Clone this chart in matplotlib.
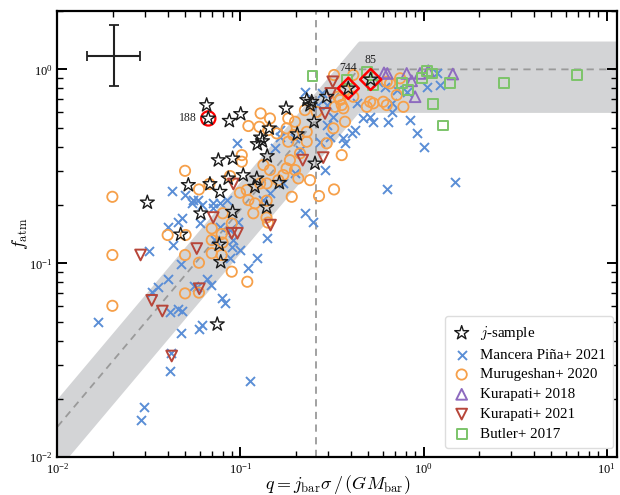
#!/usr/bin/env python3
"""Atmospheric fraction f_atm against stability parameter q."""

import matplotlib

matplotlib.use("Agg")
import matplotlib.pyplot as plt
import numpy as np

# values, stored as log10(q) and log10(f_atm)
star_lq = [-1.185, -1.176, -1.061, -0.999, -0.751, -0.638, -0.611, -0.620, -0.529, -0.598,
           -0.411, -0.289, -0.843, -0.890, -0.908, -0.880, -0.690, -0.854, -1.121, -1.043,
           -1.285, -1.167, -1.112, -1.067, -0.985, -0.911, -0.921, -0.788, -0.593, -0.857,
           -1.043, -1.217, -1.116, -1.108, -1.127, -1.509, -1.327]
star_lf = [-0.184, -0.253, -0.265, -0.230, -0.201, -0.158, -0.167, -0.184, -0.141, -0.270,
           -0.098, -0.052, -0.304, -0.351, -0.385, -0.370, -0.334, -0.447, -0.468, -0.459,
           -0.596, -0.591, -0.631, -0.562, -0.545, -0.562, -0.605, -0.585, -0.485, -0.711,
           -0.734, -0.742, -0.903, -0.993, -1.314, -0.686, -0.851]

# highlighted galaxies (indices into the star arrays)
circled = {"188": 1}
boxed = {"744": 10, "85": 11}

mancera_lq = [-1.376, -1.303, -1.267, -1.231, -1.212, -1.321, -1.340, -1.395, -1.367, -1.498,
              -1.325, -1.395, -1.449, -1.485, -1.252, -1.340, -1.385, -1.321, -1.780, -1.325,
              -1.227, -1.212, -1.380, -1.385, -1.526, -1.544, -1.112, -1.075, -0.857, -1.039,
              -1.003, -1.057, -0.911, -0.957, -1.185, -1.161, -1.239, -1.103, -1.085, -0.648,
              -0.606, -1.258, -1.149, -1.149, -1.012, -1.112, -1.221, -1.057, -1.139, -1.048,
              -1.017, -0.702, -0.784, -0.811, -0.529, -0.566, -0.538, -0.702, -0.648, -0.556,
              -0.529, -0.575, -0.365, -0.292, -0.274, -0.329, -0.192, -0.174, -0.074, -0.037,
              -0.392, -0.438, -0.374, -0.247, -0.210, -0.146, -0.092, 0.017, 0.090, 0.072,
              0.000, -0.429, -0.511, -0.493, -0.201, 0.172, -0.174, -0.675, -0.766, -0.839,
              -0.875, -0.784, -0.948]
mancera_lf = [-0.626, -0.648, -0.691, -0.674, -0.699, -0.768, -0.786, -0.814, -0.906, -0.937,
              -1.004, -1.082, -1.124, -1.146, -1.117, -1.237, -1.253, -1.246, -1.301, -1.361,
              -1.340, -1.318, -1.464, -1.555, -1.739, -1.808, -0.691, -0.674, -0.871, -0.880,
              -0.931, -0.974, -0.974, -1.026, -1.081, -1.112, -1.122, -1.180, -1.203, -0.739,
              -0.789, -0.674, -0.691, -0.716, -0.786, -0.811, -0.794, -0.828, -0.880, -0.914,
              -0.381, -0.356, -0.347, -0.407, -0.287, -0.373, -0.519, -0.536, -0.115, -0.124,
              -0.184, -0.184, -0.175, -0.244, -0.270, -0.253, -0.270, -0.175, -0.261, -0.330,
              -0.330, -0.356, -0.313, -0.064, -0.090, -0.107, -0.115, -0.090, -0.081, -0.021,
              -0.399, -0.381, -0.347, -0.244, -0.617, -0.579, -0.219, -0.416, -0.588, -0.639,
              -0.674, -0.313, -1.607]

murugeshan_lq = [-1.303, -1.227, -1.700, -1.398, -1.300, -1.700, -1.303, -1.227, -1.303, -1.227,
                 -1.700, -1.170, -1.057, -1.003, -0.966, -0.893, -0.857, -0.793, -1.097, -0.921,
                 -0.930, -0.857, -0.858, -0.850, -1.157, -1.103, -1.157, -1.098, -1.157, -1.103,
                 -1.048, -0.963, -0.957, -0.720, -0.571, -1.048, -0.875, -0.839, -0.890, -0.839,
                 -0.957, -0.897, -0.848, -0.802, -0.993, -0.993, -0.739, -0.702, -0.748, -0.711,
                 -0.638, -0.638, -0.739, -0.675, -0.730, -0.748, -0.702, -0.766, -0.684, -0.620,
                 -0.648, -0.584, -0.484, -0.456, -0.438, -0.493, -0.429, -0.429, -0.489, -0.384,
                 -0.310, -0.274, -0.220, -0.146, -0.110, -0.201, -0.128, -0.384, -0.183, -0.292,
                 -0.201, -0.447, -0.466, -0.529, -0.447, -0.489]
murugeshan_lf = [-0.523, -0.619, -0.657, -0.854, -0.854, -0.957, -0.957, -0.997, -1.155, -1.151,
                 -1.219, -0.591, -0.550, -0.636, -0.622, -0.588, -0.588, -0.571, -0.742, -0.691,
                 -0.742, -0.677, -0.764, -0.790, -0.820, -0.849, -0.880, -0.893, -0.948, -0.957,
                 -1.043, -1.095, -0.674, -0.657, -0.653, -0.794, -0.493, -0.519, -0.227, -0.253,
                 -0.292, -0.296, -0.313, -0.330, -0.442, -0.476, -0.253, -0.270, -0.304, -0.339,
                 -0.322, -0.373, -0.373, -0.433, -0.468, -0.510, -0.519, -0.545, -0.562, -0.571,
                 -0.210, -0.219, -0.193, -0.158, -0.201, -0.304, -0.270, -0.107, -0.029, -0.141,
                 -0.193, -0.175, -0.167, -0.132, -0.193, -0.064, -0.046, -0.029, -0.072, -0.167,
                 -0.184, -0.184, -0.141, -0.381, -0.442, -0.619]

kurapati18_lq = [-0.216, -0.198, -0.092, -0.065, -0.019, 0.026, 0.160, -0.046]
kurapati18_lf = [-0.018, -0.021, -0.021, -0.059, -0.021, -0.007, -0.024, -0.141]

kurapati21_lq = [-0.496, -0.507, -0.538, -0.660, -0.548, -1.039, -0.836, -1.149, -1.048, -1.017,
                 -1.239, -1.225, -1.546, -1.485, -1.427, -1.376]
kurapati21_lf = [-0.064, -0.124, -0.227, -0.468, -0.455, -0.591, -0.803, -0.764, -0.845, -0.845,
                 -0.924, -1.131, -0.957, -1.191, -1.246, -1.478]

butler_lq = [-0.607, -0.420, -0.310, -0.274, -0.119, -0.083, -0.010, 0.017, 0.045, 0.145,
             0.054, 0.105, 0.441, 0.840]
butler_lf = [-0.036, -0.052, -0.012, -0.081, -0.072, -0.107, -0.046, -0.007, -0.021, -0.069,
             -0.179, -0.289, -0.069, -0.028]

# model f_atm = min(1, A q^B) with a +/-40% band, and the q cut
model_a = 2.5
model_b = 1.12
band_frac = 0.4
q_cut = 0.26

# typical uncertainty (dex) shown top left
err_lq, err_lf = -1.693, 0.070
err_dq, err_df = 0.146, 0.157

plt.rcParams["font.family"] = "serif"
plt.rcParams["font.serif"] = ["Liberation Serif", "DejaVu Serif"]
plt.rcParams["mathtext.fontset"] = "cm"

C_BLUE = "#5b8ed6"
C_ORANGE = "#f6a04a"
C_PURPLE = "#8e6bbf"
C_RED = "#b7463a"
C_GREEN = "#7cc46a"


def pts(lq, lf):
    return 10 ** np.asarray(lq), 10 ** np.asarray(lf)


fig = plt.figure(figsize=(6.2, 4.95), dpi=100)
ax = fig.add_axes([0.0927, 0.0762, 0.9024, 0.9016])

qq = np.logspace(-2, 1.1, 400)
model = np.minimum(1.0, model_a * qq ** model_b)
ax.fill_between(qq, model * (1 - band_frac), model * (1 + band_frac),
                color="#d3d4d6", lw=0, zorder=0)
ax.plot(qq, model, ls=(0, (4, 3)), color="#9a9a9a", lw=1.3, zorder=1)
ax.axvline(q_cut, ls=(0, (4, 3)), color="#9a9a9a", lw=1.3, zorder=1)

x, y = pts(mancera_lq, mancera_lf)
ax.scatter(x, y, marker="x", s=42, color=C_BLUE, lw=1.4, zorder=2,
           label="Mancera Piña+ 2021")
x, y = pts(murugeshan_lq, murugeshan_lf)
ax.scatter(x, y, marker="o", s=55, facecolor="none", edgecolor=C_ORANGE, lw=1.3,
           zorder=3, label="Murugeshan+ 2020")
x, y = pts(kurapati18_lq, kurapati18_lf)
ax.scatter(x, y, marker="^", s=60, facecolor="none", edgecolor=C_PURPLE, lw=1.4,
           zorder=3, label="Kurapati+ 2018")
x, y = pts(kurapati21_lq, kurapati21_lf)
ax.scatter(x, y, marker="v", s=60, facecolor="none", edgecolor=C_RED, lw=1.4,
           zorder=3, label="Kurapati+ 2021")
x, y = pts(butler_lq, butler_lf)
ax.scatter(x, y, marker="s", s=50, facecolor="none", edgecolor=C_GREEN, lw=1.4,
           zorder=3, label="Butler+ 2017")
sx, sy = pts(star_lq, star_lf)
ax.scatter(sx, sy, marker="*", s=110, facecolor="none", edgecolor="#1a1a1a", lw=1.0,
           zorder=5, label="$j$-sample")

for name, i in circled.items():
    ax.scatter(sx[i], sy[i], marker="o", s=105, facecolor="none", edgecolor="red",
               lw=1.6, zorder=4)
    ax.annotate(name, (sx[i], sy[i]), xytext=(-8, 0), textcoords="offset points",
                ha="right", va="center", fontsize=8.5, color="#222222")
for name, i in boxed.items():
    ax.scatter(sx[i], sy[i], marker="D", s=115, facecolor="none", edgecolor="red",
               lw=1.8, zorder=4)
    ax.annotate(name, (sx[i], sy[i]), xytext=(0, 10), textcoords="offset points",
                ha="center", va="bottom", fontsize=8.5, color="#222222")

ex, ey = 10 ** err_lq, 10 ** err_lf
ax.errorbar([ex], [ey],
            xerr=[[ex - ex / 10 ** err_dq], [ex * 10 ** err_dq - ex]],
            yerr=[[ey - ey / 10 ** err_df], [ey * 10 ** err_df - ey]],
            fmt="none", ecolor="#222222", elinewidth=1.5, capsize=3.5, capthick=1.3)

ax.set_xscale("log")
ax.set_yscale("log")
ax.set_xlim(0.01, 11.4)
ax.set_ylim(0.01, 2.0)
ax.set_xlabel(r"$q = j_{\rm bar}\sigma\,/\,(GM_{\rm bar})$", fontsize=13, va="center")
ax.xaxis.set_label_coords(0.5, -0.062)
ax.set_ylabel(r"$f_{\rm atm}$", fontsize=13, va="center")
ax.yaxis.set_label_coords(-0.067, 0.5)
ax.tick_params(which="both", direction="in", top=True, right=True, labelsize=9)
ax.tick_params(which="major", length=7, width=1.4)
ax.tick_params(which="minor", length=4, width=1.0)
for sp in ax.spines.values():
    sp.set_linewidth(1.6)

handles, labels = ax.get_legend_handles_labels()
order = [labels.index(l) for l in ["$j$-sample", "Mancera Piña+ 2021", "Murugeshan+ 2020",
                                  "Kurapati+ 2018", "Kurapati+ 2021", "Butler+ 2017"]]
leg = ax.legend([handles[i] for i in order], [labels[i] for i in order],
                loc="lower right", bbox_to_anchor=(0.993, 0.02), borderaxespad=0,
                fontsize=10.8, frameon=True, framealpha=1, edgecolor="#dddddd",
                labelspacing=0.42, handletextpad=0.6, handlelength=1.2, borderpad=0.5)

fig.savefig("out.png", dpi=100)
